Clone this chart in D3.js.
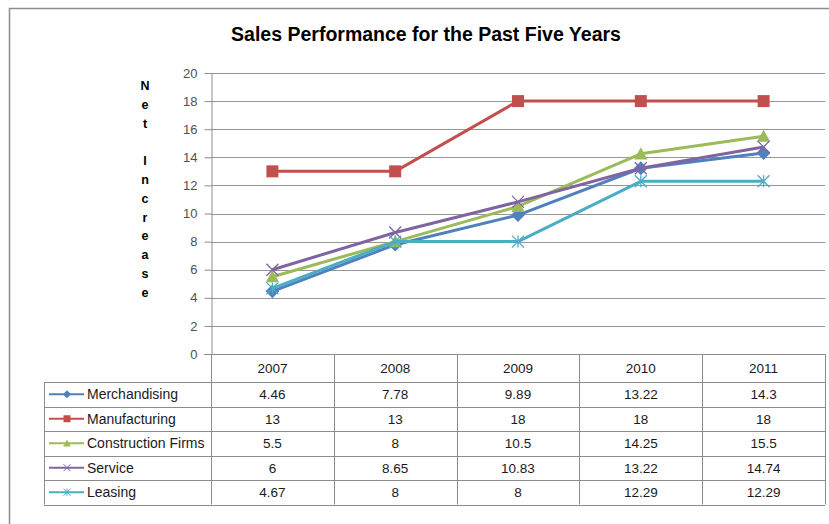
<!DOCTYPE html>
<html>
<head>
<meta charset="utf-8">
<script src="https://cdn.jsdelivr.net/npm/d3@7"></script>
<style>
  body { margin: 0; background: #fff; }
  svg { display: block; font-family: "Liberation Sans", Arial, sans-serif; }
</style>
</head>
<body>
<svg id="chart" width="829" height="524"></svg>
<script>
// data
var years = ["2007", "2008", "2009", "2010", "2011"];
var seriesNames = ["Merchandising", "Manufacturing", "Construction Firms", "Service", "Leasing"];
var merchandising = [4.46, 7.78, 9.89, 13.22, 14.3];
var manufacturing = [13, 13, 18, 18, 18];
var construction = [5.5, 8, 10.5, 14.25, 15.5];
var service = [6, 8.65, 10.83, 13.22, 14.74];
var leasing = [4.67, 8, 8, 12.29, 12.29];
var yTicks = [0, 2, 4, 6, 8, 10, 12, 14, 16, 18, 20];

var colors = ["#4F81BD", "#C0504D", "#9BBB59", "#8064A2", "#4BACC6"];
var markers = ["diamond", "square", "triangle", "x", "star"];

var series = [merchandising, manufacturing, construction, service, leasing].map(function (vals, i) {
	return { name: seriesNames[i], values: vals, color: colors[i], marker: markers[i] };
});

var svg = d3.select("#chart");

var plotLeft = 211, plotRight = 825, plotTop = 73, plotBottom = 354;
var rowH = 24.5, headH = 28;

var x = d3.scaleBand().domain(years).range([plotLeft, plotRight]);
var y = d3.scaleLinear().domain([0, 20]).range([plotBottom, plotTop]);

// outer chart border (extends past the window)
svg.append("path")
	.attr("d", "M9.5,530 L9.5,8.5 L835,8.5")
	.attr("fill", "none")
	.attr("stroke", "#8c8c8c")
	.attr("stroke-width", 1.5);

// title
svg.append("text")
	.attr("x", 426)
	.attr("y", 41)
	.attr("text-anchor", "middle")
	.attr("font-size", "19.5px")
	.attr("font-weight", "bold")
	.attr("fill", "#000")
	.text("Sales Performance for the Past Five Years");

// y label, one letter per line
var label = "Net Increase".split("");
svg.append("g").selectAll("text")
	.data(label)
	.enter()
	.append("text")
	.attr("x", 145)
	.attr("y", function (d, i) { return 90 + i * 18.8; })
	.attr("text-anchor", "middle")
	.attr("font-size", "12.5px")
	.attr("font-weight", "bold")
	.attr("fill", "#000")
	.text(function (d) { return d; });

// gridlines
svg.append("g").selectAll("line")
	.data(yTicks.slice(1))
	.enter()
	.append("line")
	.attr("x1", plotLeft).attr("x2", plotRight)
	.attr("y1", function (d) { return Math.round(y(d)) + 0.5; })
	.attr("y2", function (d) { return Math.round(y(d)) + 0.5; })
	.attr("stroke", "#969696")
	.attr("stroke-width", 1);

// y axis
var yAxis = svg.append("g")
	.attr("transform", "translate(" + (plotLeft + 0.5) + ",0)")
	.call(d3.axisLeft(y).tickValues(yTicks).tickSize(7).tickPadding(7).tickSizeOuter(0));
yAxis.select(".domain").attr("stroke", "#8c8c8c");
yAxis.selectAll(".tick line").attr("stroke", "#8c8c8c");
yAxis.selectAll(".tick text")
	.attr("font-size", "13px")
	.attr("fill", "#505050")
	.attr("font-family", "Liberation Sans, Arial, sans-serif");

// x axis baseline
svg.append("line")
	.attr("x1", plotLeft - 7).attr("x2", plotRight)
	.attr("y1", plotBottom + 0.5).attr("y2", plotBottom + 0.5)
	.attr("stroke", "#8c8c8c");

// data table
var tableLeft = 44;
var tbl = svg.append("g").attr("stroke", "#8c8c8c").attr("fill", "none");
var tableBottom = plotBottom + headH + rowH * series.length;

// column lines
years.concat(["end"]).forEach(function (d, i) {
	var xx = i < years.length ? x(d) : plotRight;
	tbl.append("line")
		.attr("x1", Math.round(xx) + 0.5).attr("x2", Math.round(xx) + 0.5)
		.attr("y1", plotBottom).attr("y2", tableBottom);
});
tbl.append("line")
	.attr("x1", tableLeft + 0.5).attr("x2", tableLeft + 0.5)
	.attr("y1", plotBottom + headH).attr("y2", tableBottom);
series.concat([null]).forEach(function (s, i) {
	var yy = Math.round(plotBottom + headH + rowH * i) + 0.5;
	tbl.append("line")
		.attr("x1", tableLeft).attr("x2", plotRight)
		.attr("y1", yy).attr("y2", yy);
});

// header labels
svg.append("g").selectAll("text")
	.data(years)
	.enter()
	.append("text")
	.attr("x", function (d) { return x(d) + x.bandwidth() / 2; })
	.attr("y", plotBottom + 19)
	.attr("text-anchor", "middle")
	.attr("font-size", "13.5px")
	.attr("fill", "#1a1a1a")
	.text(function (d) { return d; });

function drawMarker(g, type, color, size, sw) {
	var s = size / 2;
	if (type === "diamond") {
		s = s * 1.15;
		g.append("path").attr("d", "M0," + (-s) + " L" + s + ",0 L0," + s + " L" + (-s) + ",0Z").attr("fill", color);
	} else if (type === "square") {
		g.append("rect").attr("x", -s).attr("y", -s).attr("width", size).attr("height", size).attr("fill", color);
	} else if (type === "triangle") {
		s = s * 1.1;
		g.append("path").attr("d", "M0," + (-s) + " L" + s + "," + (s * 0.85) + " L" + (-s) + "," + (s * 0.85) + "Z").attr("fill", color);
	} else if (type === "x") {
		g.append("path").attr("d", "M" + (-s) + "," + (-s) + " L" + s + "," + s + " M" + s + "," + (-s) + " L" + (-s) + "," + s)
			.attr("stroke", color).attr("stroke-width", sw).attr("fill", "none");
	} else if (type === "star") {
		g.append("path").attr("d", "M" + (-s) + "," + (-s) + " L" + s + "," + s + " M" + s + "," + (-s) + " L" + (-s) + "," + s + " M0," + (-s) + " L0," + s)
			.attr("stroke", color).attr("stroke-width", sw).attr("fill", "none");
	}
}

// table rows: legend key + values
series.forEach(function (s, i) {
	var rowY = plotBottom + headH + rowH * i;
	var cy = rowY + rowH / 2;
	var row = svg.append("g");
	row.append("line")
		.attr("x1", 49).attr("x2", 84)
		.attr("y1", cy).attr("y2", cy)
		.attr("stroke", s.color).attr("stroke-width", 2);
	drawMarker(row.append("g").attr("transform", "translate(67," + cy + ")"), s.marker, s.color, 7, 1);
	row.append("text")
		.attr("x", 87)
		.attr("y", cy + 5)
		.attr("font-size", "14px")
		.attr("fill", "#1a1a1a")
		.text(s.name);
	row.selectAll("text.val")
		.data(s.values)
		.enter()
		.append("text")
		.attr("class", "val")
		.attr("x", function (d, j) { return x(years[j]) + x.bandwidth() / 2; })
		.attr("y", cy + 5)
		.attr("text-anchor", "middle")
		.attr("font-size", "13.5px")
		.attr("fill", "#1a1a1a")
		.text(function (d) { return d; });
});

// lines and markers
var line = d3.line()
	.x(function (d, i) { return x(years[i]) + x.bandwidth() / 2; })
	.y(function (d) { return y(d); });

series.forEach(function (s) {
	var g = svg.append("g");
	g.append("path")
		.datum(s.values)
		.attr("d", line)
		.attr("fill", "none")
		.attr("stroke", s.color)
		.attr("stroke-width", 3)
		.attr("stroke-linejoin", "round");
	s.values.forEach(function (v, j) {
		drawMarker(g.append("g").attr("transform", "translate(" + (x(years[j]) + x.bandwidth() / 2) + "," + y(v) + ")"),
			s.marker, s.color, 12, 1.3);
	});
});
</script>
</body>
</html>
